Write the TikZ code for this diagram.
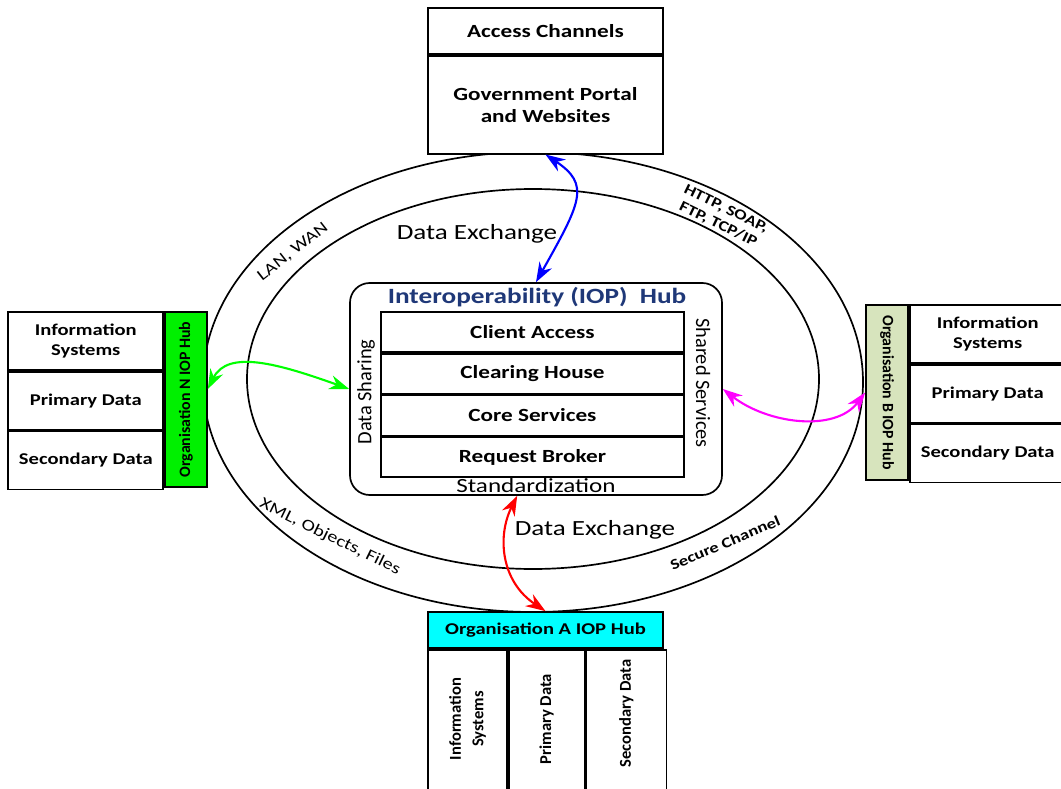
\documentclass[tikz,border=0pt]{standalone}
\usepackage{fontspec}
\setmainfont{Carlito}[FakeStretch=1.25]
\newfontfamily\narrowfont{Carlito}
\usepackage{tikz}
\usetikzlibrary{positioning,arrows.meta}

\definecolor{hubgreen}{RGB}{0,240,0}
\definecolor{hubolive}{RGB}{215,228,189}
\definecolor{hubcyan}{RGB}{0,255,255}
\definecolor{iopblue}{RGB}{31,56,120}
\definecolor{linkmagenta}{RGB}{255,0,255}
\definecolor{linkgreen}{RGB}{0,255,0}
\newcommand{\pxu}{0.025cm}

\begin{document}
\begin{tikzpicture}[x=\pxu, y=-\pxu,
  box/.style={draw, line width=1.2pt, fill=white, align=center, inner sep=0pt},
  lbl/.style={font=\fontsize{13.2}{15.6}\selectfont\bfseries},
  sidelbl/.style={font=\fontsize{11.7}{14}\selectfont\bfseries},
  striplbl/.style={font=\narrowfont\fontsize{11.3}{13}\selectfont\bfseries},
  collbl/.style={align=center, font=\narrowfont\fontsize{11.8}{16}\selectfont\bfseries},
  ring/.style={line width=1.2pt},
  link/.style={<->, >={Stealth[length=14pt,width=10pt]}, line width=1.5pt}]
\newcommand{\cellW}{155};
\newcommand{\cellH}{58};
\newcommand{\rowW}{303};
\newcommand{\rowH}{40};
\useasboundingbox (0,0) rectangle (1061,789);

% network rings
\draw[ring] (533, 382) ellipse [x radius=330, y radius=230];
\draw[ring] (533, 379) ellipse [x radius=286, y radius=190];

% access channels
\node[box, lbl, minimum width=235*\pxu, minimum height=46*\pxu] (access) at (545.5, 31) {Access Channels};
\node[box, lbl, minimum width=235*\pxu, minimum height=98*\pxu, below=0pt of access] (portal) {Government Portal\\and Websites};

% organisation N
\node[box, fill=hubgreen, minimum width=42*\pxu, minimum height=175*\pxu] (hubN) at (186, 399.5) {};
\node[striplbl, rotate=90] at (hubN) {Organisation N IOP Hub};
\node[box, sidelbl, minimum width=\cellW*\pxu, minimum height=\cellH*\pxu, anchor=north east] (infoN) at (hubN.north west) {Information\\Systems};
\node[box, sidelbl, minimum width=\cellW*\pxu, minimum height=\cellH*\pxu, below=0pt of infoN] (primN) {Primary Data};
\node[box, sidelbl, minimum width=\cellW*\pxu, minimum height=\cellH*\pxu, below=0pt of primN] (secN) {Secondary Data};

% organisation B
\node[box, fill=hubolive, minimum width=42*\pxu, minimum height=175*\pxu] (hubB) at (887, 392.5) {};
\node[striplbl, rotate=-90] at (hubB) {Organisation B IOP Hub};
\node[box, sidelbl, minimum width=156*\pxu, minimum height=\cellH*\pxu, anchor=north west] (infoB) at (hubB.north east) {Information\\Systems};
\node[box, sidelbl, minimum width=156*\pxu, minimum height=\cellH*\pxu, below=0pt of infoB] (primB) {Primary Data};
\node[box, sidelbl, minimum width=156*\pxu, minimum height=\cellH*\pxu, below=0pt of primB] (secB) {Secondary Data};

% organisation A
\node[box, fill=hubcyan, font=\fontsize{11.7}{14}\selectfont\bfseries, minimum width=235*\pxu, minimum height=36*\pxu] (hubA) at (545.5, 630) {Organisation A IOP Hub};
\node[box, minimum width=79*\pxu, minimum height=150*\pxu, anchor=north west] (infoA) at (hubA.south west) {};
\node[box, minimum width=76*\pxu, minimum height=150*\pxu, right=0pt of infoA] (primA) {};
\node[box, minimum width=80*\pxu, minimum height=150*\pxu, right=0pt of primA] (secA) {};
\node[collbl, rotate=90] at ([yshift=4pt]infoA) {Information\\Systems};
\node[collbl, rotate=90] at ([yshift=4pt]primA) {Primary Data};
\node[collbl, rotate=90] at ([yshift=8pt]secA) {Secondary Data};

% IOP hub
\node[draw, line width=1.2pt, rounded corners=14pt, minimum width=372*\pxu, minimum height=212*\pxu] (hub) at (536, 389) {};
\node[text=iopblue, font=\fontsize{15.5}{18}\selectfont\bfseries] (title) at (537, 297) {Interoperability (IOP)\ \ Hub};
\node[box, lbl, minimum width=\rowW*\pxu, minimum height=\rowH*\pxu] (client) at (532.5, 332) {Client Access};
\node[box, lbl, minimum width=\rowW*\pxu, minimum height=\rowH*\pxu, below=0pt of client] (clearing) {Clearing House};
\node[box, lbl, minimum width=\rowW*\pxu, minimum height=\rowH*\pxu, below=0pt of clearing] (core) {Core Services};
\node[box, lbl, minimum width=\rowW*\pxu, minimum height=\rowH*\pxu, below=0pt of core] (broker) {Request Broker};
\node[rotate=90, font=\narrowfont\fontsize{14.5}{17}\selectfont] at (366, 392) {Data Sharing};
\node[rotate=-90, font=\narrowfont\fontsize{14.5}{17}\selectfont] at (703, 383) {Shared Services};
\node[font=\fontsize{14.3}{17}\selectfont] at (536, 486) {Standardization};

% ring labels
\node[font=\fontsize{15.4}{18}\selectfont] at (477, 234) {Data Exchange};
\node[font=\fontsize{15.4}{18}\selectfont] at (595, 530) {Data Exchange};
\node[rotate=38, font=\fontsize{11.5}{13}\selectfont] at (293, 252) {LAN, WAN};
\node[rotate=-26, align=center, font=\fontsize{10.5}{12.5}\selectfont\bfseries] at (722, 217) {HTTP, SOAP,\\FTP, TCP/IP};
\node[rotate=-26, font=\fontsize{11.5}{13}\selectfont] at (330, 537) {XML, Objects, Files};
\node[rotate=23, font=\fontsize{10.5}{12}\selectfont\bfseries] at (725, 543) {Secure Channel};

% links
\draw[link, blue] (portal.south) .. controls +(45,30) and +(45,-80) .. (hub.north);
\draw[link, linkgreen] (hubN.east |- hub.west) .. controls +(20,-40) and +(-70,-25) .. (hub.west);
\draw[link, linkmagenta] (hub.east) .. controls +(45,35) and +(-30,40) .. (hubB.west);
\draw[link, red] (hub.-100) .. controls +(-20,40) and +(-45,-30) .. (hubA.north);
\end{tikzpicture}
\end{document}
